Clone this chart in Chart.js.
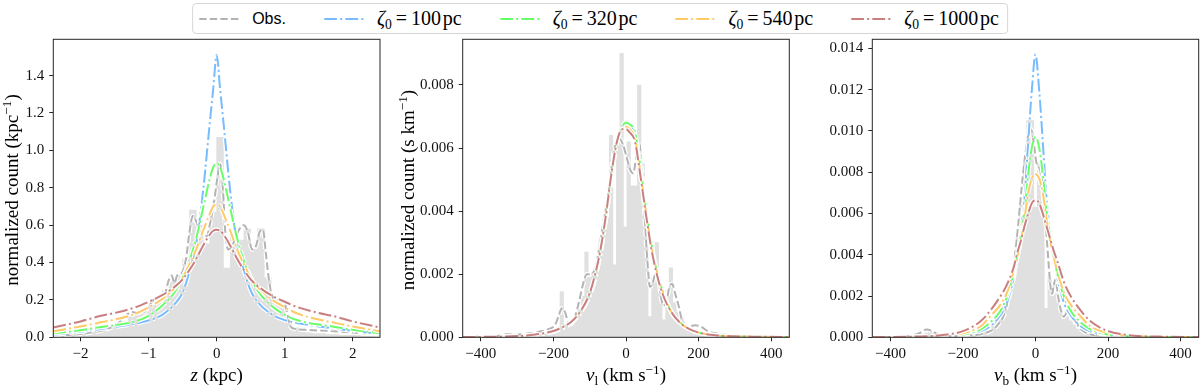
<!DOCTYPE html>
<html>
<head>
<meta charset="utf-8">
<script src="https://cdn.jsdelivr.net/npm/chart.js@4.4.1/dist/chart.umd.min.js"></script>
<style>
html,body{margin:0;padding:0;background:#fff;}
#wrap{position:relative;width:1200px;height:386px;overflow:hidden;background:#fff;}
canvas{position:absolute;top:0;}
#legend{position:absolute;top:3px;left:600px;transform:translateX(-50%);height:31px;box-sizing:border-box;
  border:1px solid #d6d6d6;border-radius:4px;background:#fff;display:flex;align-items:center;padding:0 8px 0 6px;z-index:5;white-space:nowrap;}
.item{display:flex;align-items:center;margin-right:38px;}
.item:last-child{margin-right:0;}
.item svg{width:40px;height:10px;margin-right:13px;display:block;}
.obs{font-family:"Liberation Sans",Arial,sans-serif;font-size:16px;}
.zeta{font-family:"Liberation Serif","Times New Roman",serif;font-size:20px;}
.zeta i{font-style:italic;}
.zeta sub{font-size:0.68em;vertical-align:-0.28em;line-height:0;}
.zeta .eq{margin:0 4px;}
</style>
</head>
<body>
<div id="wrap">
  <canvas id="c1" width="385" height="386" style="left:0px;width:385px;height:386px"></canvas>
  <canvas id="c2" width="415" height="386" style="left:385px;width:415px;height:386px"></canvas>
  <canvas id="c3" width="400" height="386" style="left:800px;width:400px;height:386px"></canvas>
  <div id="legend"></div>
</div>
<script>
// ---------------- DATA ----------------
const seriesNames = ['Obs.', '100', '320', '540', '1000'];

// Panel 1: z (kpc)
const zTicksX = [-2, -1, 0, 1, 2];
const zTicksY = [0, 0.2, 0.4, 0.6, 0.8, 1.0, 1.2, 1.4];
const zBins = [-2.35,-2.25,-2.15,-2.05,-1.95,-1.85,-1.75,-1.65,-1.55,-1.45,-1.35,-1.25,-1.15,-1.05,-0.95,-0.85,-0.75,-0.65,-0.55,-0.45,-0.35,-0.25,-0.15,-0.05,0.05,0.15,0.25,0.35,0.45,0.55,0.65,0.75,0.85,0.95,1.05,1.15,1.25,1.35,1.45,1.55,1.65,1.75,1.85,1.95,2.05,2.15,2.25,2.35];
const zHist = [0.010,0.010,0.015,0.015,0.020,0.025,0.030,0.040,0.050,0.060,0.085,0.110,0.120,0.140,0.170,0.190,0.250,0.300,0.330,0.420,0.680,0.600,0.500,0.670,1.070,0.370,0.540,0.520,0.580,0.470,0.580,0.320,0.200,0.170,0.110,0.050,0.030,0.025,0.020,0.020,0.015,0.015,0.010,0.010,0.010,0.008,0.005,0.005];
const zObsX = [-2.4,-2.2,-2.0,-1.8,-1.6,-1.45,-1.35,-1.25,-1.15,-1.05,-0.95,-0.88,-0.82,-0.76,-0.70,-0.66,-0.62,-0.58,-0.52,-0.45,-0.40,-0.35,-0.30,-0.22,-0.15,-0.09,-0.04,0.01,0.05,0.09,0.13,0.17,0.24,0.32,0.40,0.46,0.52,0.58,0.64,0.68,0.72,0.76,0.80,0.87,0.93,0.98,1.03,1.08,1.15,1.30,1.60,1.90,2.20,2.40];
const zObsY = [0.012,0.012,0.018,0.028,0.045,0.075,0.110,0.135,0.130,0.140,0.190,0.215,0.200,0.230,0.310,0.330,0.290,0.330,0.340,0.420,0.560,0.650,0.620,0.550,0.540,0.620,0.720,0.850,0.930,0.800,0.550,0.470,0.500,0.570,0.600,0.560,0.470,0.490,0.570,0.575,0.460,0.330,0.240,0.190,0.180,0.190,0.140,0.060,0.045,0.040,0.035,0.028,0.020,0.016];
const zModelX = [-2.4,-2.0,-1.7,-1.5,-1.2,-1.0,-0.8,-0.6,-0.5,-0.4,-0.3,-0.2,-0.1,-0.05,0,0.05,0.1,0.2,0.3,0.4,0.5,0.6,0.8,1.0,1.2,1.5,1.7,2.0,2.4];
const zBlue   = [0.013,0.030,0.045,0.055,0.073,0.090,0.120,0.185,0.240,0.350,0.500,0.780,1.150,1.330,1.510,1.330,1.150,0.780,0.500,0.360,0.250,0.190,0.125,0.092,0.075,0.058,0.048,0.035,0.016];
const zGreen  = [0.021,0.038,0.055,0.065,0.085,0.115,0.170,0.250,0.320,0.410,0.530,0.690,0.850,0.910,0.930,0.910,0.850,0.690,0.530,0.410,0.320,0.250,0.170,0.120,0.090,0.068,0.058,0.040,0.022];
const zOrange = [0.032,0.058,0.080,0.095,0.125,0.160,0.205,0.270,0.320,0.390,0.470,0.570,0.660,0.700,0.710,0.700,0.660,0.570,0.470,0.390,0.320,0.270,0.205,0.160,0.125,0.095,0.080,0.058,0.032];
const zRed    = [0.052,0.085,0.115,0.130,0.160,0.190,0.225,0.275,0.310,0.360,0.420,0.490,0.550,0.570,0.575,0.570,0.550,0.490,0.420,0.360,0.310,0.275,0.225,0.190,0.160,0.130,0.115,0.085,0.052];

// Panel 2: v_l (km/s)
const vTicksX = [-400, -200, 0, 200, 400];
const vlTicksY = [0, 0.002, 0.004, 0.006, 0.008];
const vlBins = [-254.5,-244.8,-235.1,-225.4,-215.7,-206.0,-196.3,-186.6,-176.9,-167.2,-157.5,-147.8,-138.1,-128.4,-118.7,-109.0,-99.3,-89.6,-79.9,-70.2,-60.5,-50.8,-41.1,-31.4,-21.7,-12.0,-2.3,7.4,17.1,26.8,36.5,46.2,55.9,65.6,75.3,85.0,94.7,104.4,114.1,123.8,133.5,143.2,152.9,162.6,172.3,182.0,191.7,201.4,211.1,220.8,230.5,240.2,249.9];
const vlHist = [0.00005,0.00005,0.00008,0.0001,0.0001,0.00015,0.0002,0.0003,0.00145,0.0004,0.0004,0.0005,0.0007,0.0009,0.0013,0.0027,0.0019,0.0021,0.0025,0.0030,0.0036,0.0038,0.0064,0.0023,0.0064,0.0090,0.0035,0.0062,0.0048,0.0048,0.0080,0.0055,0.0035,0.00066,0.0019,0.0030,0.0014,0.00055,0.0015,0.0022,0.0011,0.0008,0.0006,0.0004,0.0003,0.0003,0.00025,0.0002,0.00015,0.0001,0.0001,0.00005,0.00005];
const vlObsX = [-450,-400,-350,-330,-300,-270,-240,-215,-195,-185,-177,-168,-160,-152,-142,-130,-118,-108,-98,-88,-80,-70,-60,-52,-42,-32,-18,-8,2,12,20,28,36,44,52,59,66,73,81,89,96,103,112,120,127,135,145,153,162,175,190,205,225,250,275,300,350,450];
const vlObsY = [0.00001,0.00002,0.00005,0.0001,0.00008,0.00012,0.00018,0.00025,0.0004,0.0007,0.00092,0.0008,0.0005,0.00042,0.0006,0.0011,0.0017,0.0020,0.0020,0.0021,0.0024,0.0031,0.0038,0.0043,0.0052,0.0060,0.0063,0.0061,0.0057,0.0053,0.0052,0.0057,0.0062,0.0052,0.0037,0.0024,0.0016,0.0017,0.0020,0.0019,0.0013,0.0010,0.0012,0.0016,0.0017,0.0014,0.0010,0.0006,0.0004,0.00035,0.00038,0.00035,0.0002,0.00012,0.00008,0.00005,0.00002,0.00001];
const vModelX = [-450,-350,-300,-250,-200,-175,-150,-125,-100,-85,-70,-55,-40,-25,-10,0,10,25,40,55,70,85,100,125,150,175,200,250,300,350,450];
const vlBlue   = [0.00001,0.00002,0.00004,0.00008,0.00018,0.0003,0.00047,0.0008,0.00135,0.0019,0.0027,0.0038,0.0051,0.0062,0.0067,0.00675,0.00668,0.0064,0.0053,0.0040,0.0029,0.0021,0.0015,0.0008,0.00045,0.00026,0.00015,0.00006,0.00003,0.00002,0.00001];
const vlGreen  = [0.00001,0.00002,0.00004,0.00008,0.00018,0.0003,0.00046,0.0008,0.00133,0.0019,0.0027,0.0038,0.0051,0.0062,0.0067,0.0068,0.00675,0.0065,0.0054,0.0041,0.0030,0.0021,0.0015,0.0008,0.00046,0.00027,0.00015,0.00006,0.00003,0.00002,0.00001];
const vlOrange = [0.00001,0.00002,0.00004,0.00008,0.00019,0.0003,0.00048,0.0008,0.00137,0.0019,0.0028,0.0039,0.0052,0.0062,0.0066,0.00668,0.0066,0.0063,0.0052,0.0040,0.0029,0.0021,0.0015,0.0008,0.00045,0.00026,0.00015,0.00006,0.00003,0.00002,0.00001];
const vlRed    = [0.00001,0.00002,0.00004,0.00009,0.0002,0.00032,0.0005,0.00083,0.0014,0.0020,0.0028,0.0039,0.0052,0.0062,0.0066,0.0066,0.0065,0.0062,0.0051,0.0039,0.0028,0.0020,0.0014,0.0008,0.00045,0.00026,0.00015,0.00006,0.00003,0.00002,0.00001];

// Panel 3: v_b (km/s)
const vbTicksY = [0, 0.002, 0.004, 0.006, 0.008, 0.010, 0.012, 0.014];
const vbBins = [-310.4,-300.7,-291.0,-281.3,-271.6,-203.7,-194.0,-184.3,-174.6,-164.9,-155.2,-145.5,-135.8,-126.1,-116.4,-106.7,-97.0,-87.3,-77.6,-67.9,-58.2,-48.5,-38.8,-29.1,-19.4,-9.7,0,9.7,19.4,29.1,38.8,48.5,58.2,67.9,77.6,87.3,97.0,106.7,116.4,126.1,135.8,145.5,155.2,164.9,174.6,184.3,194.0,203.7,213.4,223.1,232.8];
const vbHist = [0.0001,0.0002,0.0003,0.0002,0.0001,0.00005,0.00008,0.0001,0.0001,0.00015,0.0002,0.00025,0.0003,0.0004,0.0006,0.0008,0.0011,0.0015,0.0020,0.0027,0.0037,0.0050,0.0066,0.0085,0.0105,0.0105,0.0063,0.0085,0.0068,0.0014,0.0030,0.0026,0.0021,0.0013,0.0009,0.0010,0.0008,0.0006,0.0004,0.0003,0.0002,0.00015,0.0001,0.0001,0.0001,0.00008,0.00008,0.00005,0.00005,0.00004,0.00003];
const vbObsX = [-450,-380,-340,-320,-300,-285,-270,-250,-220,-190,-160,-140,-125,-115,-100,-89,-80,-71,-64,-57,-48,-39,-30,-22,-16,-10,-4,2,8,14,20,26,31,36,41,46,50,55,60,65,72,78,86,94,102,110,120,132,150,180,210,240,270,320,450];
const vbObsY = [0.00001,0.00003,0.00008,0.0002,0.00038,0.0003,0.00015,0.00006,0.00005,0.00008,0.00012,0.0002,0.0003,0.0004,0.0007,0.0010,0.0015,0.0021,0.0029,0.0039,0.0054,0.0071,0.0086,0.0096,0.0101,0.0100,0.0093,0.0085,0.0083,0.0080,0.0072,0.0060,0.0048,0.0036,0.0025,0.0021,0.0025,0.0028,0.0023,0.0017,0.0012,0.0010,0.0012,0.0013,0.0011,0.0008,0.0005,0.0003,0.00015,0.0001,0.00012,0.00008,0.00004,0.00002,0.00001];
const vbModelX = [-450,-350,-300,-250,-200,-150,-120,-100,-80,-60,-50,-40,-30,-20,-10,0,10,20,30,40,50,60,80,100,120,150,200,250,300,350,450];
const vbBlue   = [0.00001,0.00001,0.00002,0.00004,0.0001,0.0003,0.0006,0.0010,0.0016,0.0029,0.0039,0.0051,0.0068,0.0095,0.0120,0.0137,0.0120,0.0095,0.0068,0.0051,0.0039,0.0029,0.0016,0.0010,0.0006,0.0003,0.0001,0.00004,0.00002,0.00001,0.00001];
const vbGreen  = [0.00001,0.00002,0.00003,0.00005,0.00013,0.0004,0.0008,0.0012,0.0019,0.0031,0.0040,0.0050,0.0062,0.0079,0.0092,0.0097,0.0092,0.0079,0.0062,0.0050,0.0040,0.0031,0.0019,0.0012,0.0008,0.0004,0.00013,0.00005,0.00003,0.00002,0.00001];
const vbOrange = [0.00001,0.00002,0.00004,0.00008,0.0002,0.00055,0.0011,0.0015,0.0021,0.0032,0.0039,0.0047,0.0058,0.0070,0.0077,0.0079,0.0077,0.0070,0.0058,0.0047,0.0039,0.0032,0.0021,0.0015,0.0011,0.00055,0.0002,0.00008,0.00004,0.00002,0.00001];
const vbRed    = [0.00001,0.00003,0.00005,0.00012,0.0003,0.0008,0.0014,0.0019,0.0025,0.0034,0.0041,0.0047,0.0054,0.0060,0.0065,0.00665,0.0065,0.0060,0.0054,0.0048,0.0042,0.0037,0.0026,0.0019,0.0014,0.0008,0.0003,0.00012,0.00005,0.00003,0.00001];

// ---------------- STYLE ----------------
const SERIF = '"Liberation Serif", "Times New Roman", serif';
Chart.defaults.font.family = SERIF;
const COLORS = {
  hist: 'rgb(224,224,224)',
  obs: 'rgba(128,128,128,0.6)',
  blue: 'rgba(30,144,255,0.6)',
  green: 'rgba(0,255,0,0.6)',
  orange: 'rgba(255,165,0,0.6)',
  red: 'rgba(165,42,42,0.6)'
};
const DASH = [7.4, 3.2];
const DASHDOT = [12.8, 3.2, 2, 3.2];

// ---------------- LEGEND (HTML) ----------------
(function buildLegend(){
  const lg = document.getElementById('legend');
  const defs = [
    {c: COLORS.obs, d: DASH, html: '<span class="obs">' + seriesNames[0] + '</span>'},
    {c: COLORS.blue, d: DASHDOT, v: seriesNames[1]},
    {c: COLORS.green, d: DASHDOT, v: seriesNames[2]},
    {c: COLORS.orange, d: DASHDOT, v: seriesNames[3]},
    {c: COLORS.red, d: DASHDOT, v: seriesNames[4]}
  ];
  defs.forEach(df => {
    const it = document.createElement('div');
    it.className = 'item';
    const svg = '<svg viewBox="0 0 40 10"><line x1="0" y1="5" x2="40" y2="5" stroke="' + df.c + '" stroke-width="2" stroke-dasharray="' + df.d.join(' ') + '"/></svg>';
    const txt = df.html ? df.html : '<span class="zeta"><i>ζ</i><sub>0</sub><span class="eq">=</span>' + df.v + '&#8202;pc</span>';
    it.innerHTML = svg + txt;
    lg.appendChild(it);
  });
})();

// ---------------- RICH TEXT AXIS TITLES ----------------
function drawRich(ctx, segs, cx, cy, size, rotate) {
  ctx.save();
  ctx.translate(cx, cy);
  if (rotate) ctx.rotate(-Math.PI / 2);
  const parts = segs.map(s => {
    const sz = (s.sub || s.sup) ? size * 0.7 : size;
    const font = (s.it ? 'italic ' : '') + sz + 'px ' + SERIF;
    ctx.font = font;
    return {t: s.t, font: font, w: ctx.measureText(s.t).width, dy: s.sub ? size * 0.22 : (s.sup ? -size * 0.38 : 0)};
  });
  const total = parts.reduce((a, p) => a + p.w, 0);
  let x = -total / 2;
  ctx.fillStyle = '#000';
  ctx.textBaseline = 'alphabetic';
  ctx.textAlign = 'left';
  parts.forEach(p => { ctx.font = p.font; ctx.fillText(p.t, x, p.dy + size * 0.33); x += p.w; });
  ctx.restore();
}

const framePlugin = {
  id: 'frameAndTitles',
  afterDatasetsDraw(chart) {
    const ctx = chart.ctx, a = chart.chartArea;
    ctx.save();
    ctx.strokeStyle = '#262626';
    ctx.lineWidth = 1;
    ctx.strokeRect(a.left, a.top, a.right - a.left, a.bottom - a.top);
    ctx.restore();
  },
  afterDraw(chart) {
    const o = chart.options.plugins.frameAndTitles;
    const ctx = chart.ctx, a = chart.chartArea;
    if (o.xTitle) drawRich(ctx, o.xTitle, (a.left + a.right) / 2, 375, 19, false);
    if (o.yTitle) drawRich(ctx, o.yTitle, o.yTitleX, 190, 19, true);
  }
};

function fmtX(v) { return (v < 0 ? '\u2212' : '') + Math.abs(v); }

function pts(xs, ys) { return xs.map((x, i) => ({x: x, y: ys[i]})); }

function lineDs(label, xs, ys, color, dash, order) {
  const common = {type: 'line', parsing: true, pointRadius: 0, fill: false, borderDash: dash,
    borderCapStyle: 'butt', cubicInterpolationMode: 'monotone', data: pts(xs, ys)};
  return [
    Object.assign({}, common, {label: label + ' halo', borderColor: '#ffffff', borderWidth: 4.5, order: order + 1}),
    Object.assign({}, common, {label: label, borderColor: color, borderWidth: 2, order: order})
  ];
}

function makeChart(id, p) {
  const datasets = [
    {type: 'bar', label: 'hist', data: pts(p.bins, p.hist), backgroundColor: COLORS.hist, borderWidth: 0,
     barPercentage: 1.0, categoryPercentage: 1.0, order: 30}
  ]
  .concat(lineDs('Obs.', p.obsX, p.obsY, COLORS.obs, DASH, 20))
  .concat(lineDs('100', p.mX, p.blue, COLORS.blue, DASHDOT, 18))
  .concat(lineDs('320', p.mX, p.green, COLORS.green, DASHDOT, 16))
  .concat(lineDs('540', p.mX, p.orange, COLORS.orange, DASHDOT, 14))
  .concat(lineDs('1000', p.mX, p.red, COLORS.red, DASHDOT, 12));

  const tickFont = {family: SERIF, size: 15, style: 'normal', weight: 'normal'};
  return new Chart(document.getElementById(id), {
    type: 'bar',
    data: {datasets: datasets},
    plugins: [framePlugin],
    options: {
      responsive: false, animation: false, devicePixelRatio: 1, events: [],
      layout: {padding: {left: 0, right: p.padRight, top: 39.3, bottom: 0}},
      plugins: {
        legend: {display: false}, tooltip: {enabled: false},
        frameAndTitles: {xTitle: p.xTitle, yTitle: p.yTitle, yTitleX: p.yTitleX}
      },
      scales: {
        x: {
          type: 'linear', min: p.xmin, max: p.xmax, offset: false,
          grid: {display: true, drawOnChartArea: false, drawTicks: true, tickLength: 4, color: '#262626', offset: false},
          border: {display: false},
          ticks: {font: tickFont, color: '#111', padding: 4, maxRotation: 0, autoSkip: false,
                  callback: v => fmtX(v)},
          afterBuildTicks: s => { s.ticks = p.ticksX.map(v => ({value: v})); },
          afterFit: s => { s.height = 386 - 337.3; }
        },
        y: {
          type: 'linear', min: 0, max: p.ymax,
          grid: {display: true, drawOnChartArea: false, drawTicks: true, tickLength: 4, color: '#262626'},
          border: {display: false},
          ticks: {font: tickFont, color: '#111', padding: 5, autoSkip: false,
                  callback: v => v.toFixed(p.dec)},
          afterBuildTicks: s => { s.ticks = p.ticksY.map(v => ({value: v})); },
          afterFit: s => { s.width = p.yWidth; }
        }
      }
    }
  });
}

makeChart('c1', {
  bins: zBins, hist: zHist, obsX: zObsX, obsY: zObsY, mX: zModelX,
  blue: zBlue, green: zGreen, orange: zOrange, red: zRed,
  xmin: -2.4, xmax: 2.4, ymax: 1.594, ticksX: zTicksX, ticksY: zTicksY, dec: 1,
  yWidth: 53.3, padRight: 5,
  xTitle: [{t: 'z', it: true}, {t: ' (kpc)'}],
  yTitle: [{t: 'normalized count (kpc'}, {t: '\u22121', sup: true}, {t: ')'}], yTitleX: 11.5
});
makeChart('c2', {
  bins: vlBins, hist: vlHist, obsX: vlObsX, obsY: vlObsY, mX: vModelX,
  blue: vlBlue, green: vlGreen, orange: vlOrange, red: vlRed,
  xmin: -450, xmax: 450, ymax: 0.009448, ticksX: vTicksX, ticksY: vlTicksY, dec: 3,
  yWidth: 77.7, padRight: 10.7,
  xTitle: [{t: 'v', it: true}, {t: 'l', sub: true}, {t: ' (km s'}, {t: '\u22121', sup: true}, {t: ')'}],
  yTitle: [{t: 'normalized count (s km'}, {t: '\u22121', sup: true}, {t: ')'}], yTitleX: 23
});
makeChart('c3', {
  bins: vbBins, hist: vbHist, obsX: vbObsX, obsY: vbObsY, mX: vbModelX,
  blue: vbBlue, green: vbGreen, orange: vbOrange, red: vbRed,
  xmin: -450, xmax: 450, ymax: 0.014436, ticksX: vTicksX, ticksY: vbTicksY, dec: 3,
  yWidth: 72.3, padRight: 1.3,
  xTitle: [{t: 'v', it: true}, {t: 'b', sub: true}, {t: ' (km s'}, {t: '\u22121', sup: true}, {t: ')'}],
  yTitle: null
});
</script>
</body>
</html>
